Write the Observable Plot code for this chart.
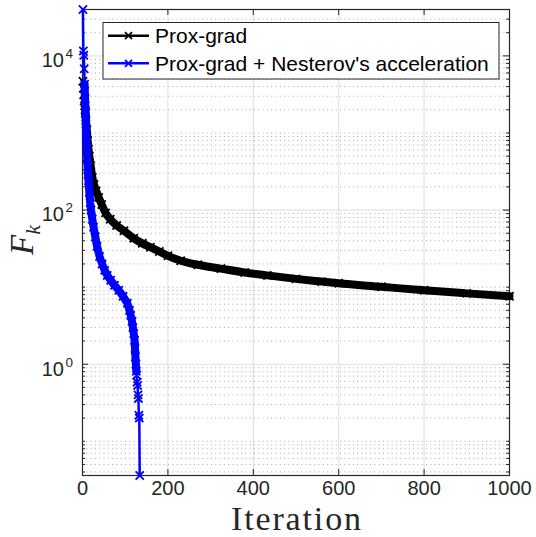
<!DOCTYPE html>
<html><head><meta charset="utf-8">
<script src="https://cdn.jsdelivr.net/npm/d3@7"></script>
<script src="https://cdn.jsdelivr.net/npm/@observablehq/plot@0.6"></script>
<style>html,body{margin:0;padding:0;background:#fff} svg{display:block}</style>
</head><body><div id="chart"></div>
<script>
// ---- data ----
const seriesNames = ["Prox-grad", "Prox-grad + Nesterov's acceleration"];
const seriesColors = ["#000000", "#0000ff"];

const proxIter = [1,2,3,4,5,6,7,8,10,12,14,16,19,23,27,32,38,45,54,65,80,97,120,140,159,180,200,230,270,324,380,433,500,560,600,700,800,900,1000];
const proxF    = [4700,3800,3100,2600,2250,2000,1800,1450,1100,800,620,500,380,265,215,177,146,118,92,76,63,54,43,37,33,29,25.5,22,19.5,17.4,15.5,14.2,12.8,11.8,11.2,10.1,9.1,8.3,7.6];

const nestIter = [1,2,3,4,5,6,7,8,9,10,11,12,13,14,16,18,20,23,26,30,34,40,46,52,58,66,75,85,95,105,110,113,116,118,120,122,123,124,125,126,127,128,129,130,131,132,133,134];
const nestF    = [40000,11600,10200,6800,4300,2800,1900,1300,900,650,480,370,290,240,170,125,100,76,60,45,34,25,20,16.5,14.2,12.3,10.6,9.1,7.6,6.2,5.0,4.3,3.6,3.0,2.5,2.05,1.6,1.25,1.0,0.81,0.72,0.585,0.53,0.40,0.36,0.218,0.20,0.036];

const xTicks = [0,200,400,600,800,1000];
const yTickExp = [0,2,4];
const decades = [-2,-1,0,1,2,3,4];
const mantissas = [1,2,3,4,5,6,7,8,9];

// ---- layout ----
const W = 536, H = 537;
const mL = 82, mR = 27, mT = 9, mB = 62;
const plotW = W - mL - mR, plotH = H - mT - mB;
const sans = "Liberation Sans, Arial, Helvetica, sans-serif";
const serif = "Liberation Serif, Times New Roman, serif";
const axisColor = "#262626";

const prox = proxIter.map((k, i) => ({k, F: proxF[i]}));
const nest = nestIter.map((k, i) => ({k, F: nestF[i]}));
const allF = proxF.concat(nestF);
const yDomain = [d3.min(allF), d3.max(allF)];

const majorY = yTickExp.map(e => 10 ** e);
const minorY = decades.flatMap(d => mantissas.map(m => m * 10 ** d))
  .filter(v => v >= yDomain[0] && v <= yDomain[1] && !majorY.some(M => Math.abs(M - v) / M < 1e-9));

const chart = Plot.plot({
  width: W, height: H,
  marginLeft: mL, marginRight: mR, marginTop: mT, marginBottom: mB,
  style: {background: "#fff", fontFamily: sans, overflow: "visible"},
  x: {domain: [0, 1000], axis: null},
  y: {type: "log", domain: yDomain, axis: null},
  marks: [
    // grid
    Plot.ruleY(minorY, {stroke: "#a8a8a8", strokeWidth: 1, strokeDasharray: "1,3.3"}),
    Plot.ruleY(majorY, {stroke: "#dddddd", strokeWidth: 1}),
    Plot.ruleX(xTicks.filter(d => d > 0 && d < 1000), {stroke: "#dddddd", strokeWidth: 1}),
    // inward ticks
    Plot.ruleY(majorY, {stroke: axisColor, insetRight: plotW - 6}),
    Plot.ruleY(majorY, {stroke: axisColor, insetLeft: plotW - 6}),
    Plot.ruleY(minorY, {stroke: axisColor, insetRight: plotW - 3}),
    Plot.ruleY(minorY, {stroke: axisColor, insetLeft: plotW - 3}),
    Plot.ruleX(xTicks, {stroke: axisColor, insetTop: plotH - 6}),
    Plot.ruleX(xTicks, {stroke: axisColor, insetBottom: plotH - 6}),
    Plot.frame({stroke: axisColor, strokeWidth: 1.2}),
    // Prox-grad
    Plot.line(prox.filter(d => d.k >= 6), {x: "k", y: "F", stroke: seriesColors[0], strokeWidth: 8, strokeLinecap: "round", strokeLinejoin: "round", curve: "monotone-x"}),
    Plot.line(prox, {x: "k", y: "F", stroke: seriesColors[0], strokeWidth: 2}),
    Plot.dot(prox, {x: "k", y: "F", symbol: "times", r: 3.8, stroke: seriesColors[0], strokeWidth: 1.8}),
    // Nesterov
    Plot.line(nest.filter(d => d.k >= 5 && d.k <= 126), {x: "k", y: "F", stroke: seriesColors[1], strokeWidth: 8, strokeLinecap: "round", strokeLinejoin: "round"}),
    Plot.line(nest, {x: "k", y: "F", stroke: seriesColors[1], strokeWidth: 2.5}),
    Plot.dot(nest, {x: "k", y: "F", symbol: "times", r: 3.8, stroke: seriesColors[1], strokeWidth: 1.8}),
    // tick labels
    Plot.text(xTicks, {x: d => d, text: d => String(d), frameAnchor: "bottom", dy: 19, fontSize: 20, fill: axisColor, fontFamily: sans}),
    Plot.text(yTickExp, {y: e => 10 ** e, text: () => "10", frameAnchor: "left", textAnchor: "end", dx: -18.5, dy: 5, fontSize: 20, fill: axisColor, fontFamily: sans}),
    Plot.text(yTickExp, {y: e => 10 ** e, text: e => String(e), frameAnchor: "left", textAnchor: "start", dx: -17, dy: -2, fontSize: 13.5, fill: axisColor, fontFamily: sans}),
    // x label
    Plot.text(["Iteration"], {text: d => d, frameAnchor: "bottom", dy: 54, fontSize: 34, fill: axisColor, fontFamily: serif})
  ]
});

document.getElementById("chart").appendChild(chart);

const svg = d3.select(chart);
svg.selectAll("text").filter(function () { return this.textContent === "Iteration"; })
  .attr("textLength", 130).attr("lengthAdjust", "spacing");

// ---- y label F_k and legend ----
const yl = svg.append("text")
  .attr("transform", "translate(33,240) rotate(-90)")
  .attr("text-anchor", "middle")
  .attr("fill", axisColor)
  .style("font-family", serif).style("font-style", "italic");
yl.append("tspan").attr("font-size", 33).text("F");
yl.append("tspan").attr("font-size", 22).attr("dy", 7).text("k");

const lg = svg.append("g");
lg.append("rect").attr("x", 103).attr("y", 22.5).attr("width", 396).attr("height", 56.5)
  .attr("fill", "#fff").attr("stroke", axisColor).attr("stroke-width", 1);
const rowsY = [35.7, 63.3];
seriesNames.forEach((name, i) => {
  const y = rowsY[i];
  lg.append("line").attr("x1", 108).attr("x2", 149).attr("y1", y).attr("y2", y)
    .attr("stroke", seriesColors[i]).attr("stroke-width", 2.5);
  const s = 3.5;
  lg.append("path").attr("d", `M${128.5 - s},${y - s}L${128.5 + s},${y + s}M${128.5 - s},${y + s}L${128.5 + s},${y - s}`)
    .attr("stroke", seriesColors[i]).attr("stroke-width", 1.8).attr("fill", "none");
  lg.append("text").attr("x", 155).attr("y", y).attr("dy", "0.35em")
    .attr("text-anchor", "start")
    .attr("font-size", 21).attr("fill", "#000").style("font-family", sans).text(name);
});
</script>
</body></html>
